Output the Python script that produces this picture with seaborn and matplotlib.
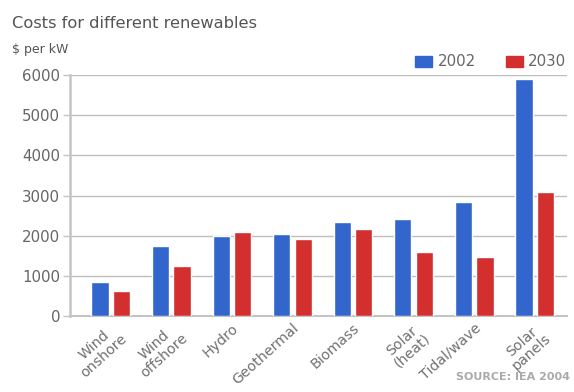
import matplotlib
matplotlib.use("Agg")
import matplotlib.pyplot as plt
from matplotlib.patches import Rectangle
import seaborn as sns
import pandas as pd

categories = ["Wind\nonshore", "Wind\noffshore", "Hydro", "Geothermal", "Biomass",
              "Solar\n(heat)", "Tidal/wave", "Solar\npanels"]
years = ["2002", "2030"]
values_2002 = [840, 1750, 2000, 2050, 2340, 2420, 2840, 5890]
values_2030 = [630, 1250, 2090, 1920, 2170, 1590, 1460, 3090]
yticks = [0, 1000, 2000, 3000, 4000, 5000, 6000]
colors = ["#3366cc", "#d32f2f"]

df = pd.DataFrame({
    "category": categories * 2,
    "year": [years[0]] * len(categories) + [years[1]] * len(categories),
    "value": values_2002 + values_2030,
})

sns.set_theme(style="white")
plt.rcParams["font.family"] = ["DejaVu Sans"]

fig = plt.figure(figsize=(5.74, 3.92), dpi=100)
ax = fig.add_axes([70/574, (392-316)/392, (567-70)/574, (316-75)/392])

sns.barplot(data=df, x="category", y="value", hue="year", order=categories,
            hue_order=years, palette=colors, width=0.71, gap=0.2,
            saturation=1, errorbar=None, ax=ax, legend=False, zorder=3)

ax.set_ylim(0, 6000)
ax.set_xlim(-0.673, 7.532)
ax.set_yticks(yticks)
ax.set_yticklabels([str(v) for v in yticks], fontsize=10.8, color="#666666")
ax.yaxis.grid(True, color="#bdbdbd", linewidth=1.0, zorder=0)
ax.set_axisbelow(True)
ax.set_xlabel("")
ax.set_ylabel("")
for s in ["top", "right"]:
    ax.spines[s].set_visible(False)
ax.spines["left"].set_color("#c4c4c4")
ax.spines["left"].set_linewidth(1.8)
ax.spines["bottom"].set_color("#c4c4c4")
ax.spines["bottom"].set_linewidth(1.5)
ax.tick_params(axis="y", which="both", left=True, length=5, width=1, color="#c4c4c4", pad=2)
ax.tick_params(axis="x", bottom=False, length=0, pad=3.5)

ax.set_xticks(range(len(categories)))
ax.set_xticklabels(categories, rotation=42, ha="right", rotation_mode="anchor",
                   fontsize=10.2, color="#707070", multialignment="center")
for lbl in ax.get_xticklabels():
    lbl.set_linespacing(1.0)

fig.text(12/574, 1 - 23/392, "Costs for different renewables", fontsize=11.7,
         color="#555555", va="center", ha="left")
fig.text(12/574, 1 - 49/392, "$ per kW", fontsize=9, color="#555555",
         va="center", ha="left")

# legend
fig.patches.append(Rectangle((415/574, 1 - 67/392), 17/574, 11/392,
                             transform=fig.transFigure, color=colors[0]))
fig.text(438/574, 1 - 61/392, years[0], fontsize=10.8, color="#666666", va="center")
fig.patches.append(Rectangle((506/574, 1 - 67/392), 17/574, 11/392,
                             transform=fig.transFigure, color=colors[1]))
fig.text(528/574, 1 - 61/392, years[1], fontsize=10.8, color="#666666", va="center")

fig.text(456/574, 1 - 377/392, "SOURCE: IEA 2004", fontsize=8, color="#aaaaaa",
         va="center", ha="left", fontweight="bold")

fig.savefig("out.png", dpi=100)
